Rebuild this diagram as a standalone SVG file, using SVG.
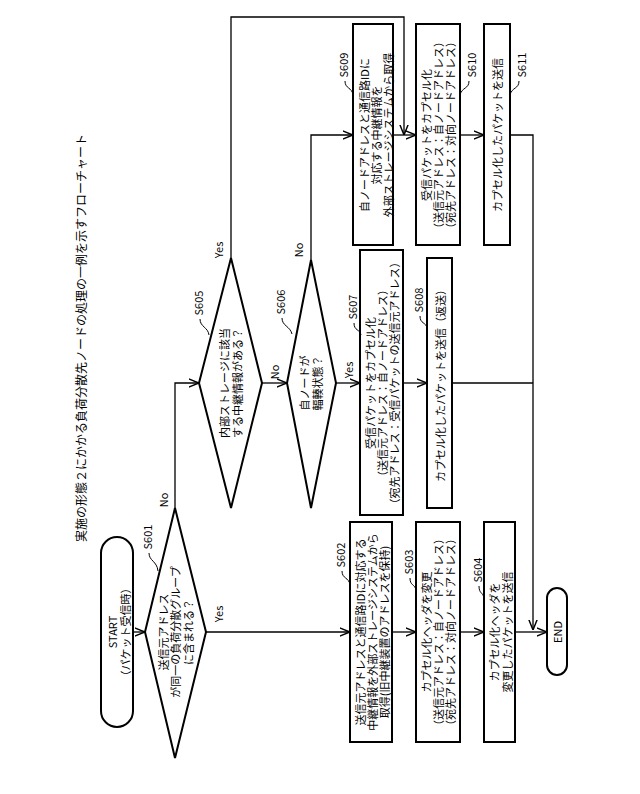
<svg xmlns="http://www.w3.org/2000/svg" width="640" height="794" viewBox="0 0 640 794">
<style>
.s{fill:#fff;stroke:#000;stroke-width:2}
.c{fill:none;stroke:#000;stroke-width:1.3}
.l{fill:none;stroke:#000;stroke-width:1}
text{font-family:"Noto Sans CJK JP","Liberation Sans",sans-serif;font-size:11px;text-anchor:middle;dominant-baseline:central;fill:#000}
.b{font-size:12px}
</style>
<defs><marker id="a" viewBox="0 0 10 10" refX="10" refY="5" markerWidth="8" markerHeight="8" orient="auto"><path d="M0,1 L10,5 L0,9" fill="none" stroke="#000" stroke-width="1.4"/></marker></defs>
<rect width="640" height="794" fill="#fff"/>
<text class="b" transform="translate(80,338) rotate(-90)">実施の形態２にかかる負荷分散先ノードの処理の一例を示すフローチャート</text>
<g id="connectors">
<path class="c" d="M133,632 H145" marker-end="url(#a)"/>
<path class="c" d="M175,508 V383 H199" marker-end="url(#a)"/>
<path class="c" d="M262,383 H287" marker-end="url(#a)"/>
<path class="c" d="M336,383 H360" marker-end="url(#a)"/>
<path class="c" d="M403,383 H427" marker-end="url(#a)"/>
<path class="c" d="M452,383 H533"/>
<path class="c" d="M231,258 V17 H404 V135" marker-end="url(#a)"/>
<path class="c" d="M311,260 V135 H353" marker-end="url(#a)"/>
<path class="c" d="M393,135 H416" marker-end="url(#a)"/>
<path class="c" d="M460,135 H484" marker-end="url(#a)"/>
<path class="c" d="M510,135 H533 V630" marker-end="url(#a)"/>
<path class="c" d="M206,632 H350" marker-end="url(#a)"/>
<path class="c" d="M392,632 H416" marker-end="url(#a)"/>
<path class="c" d="M460,632 H484" marker-end="url(#a)"/>
<path class="c" d="M515,632 H547" marker-end="url(#a)"/>
<text transform="translate(163,500) rotate(-90)">No</text>
<text transform="translate(218,614) rotate(-90)">Yes</text>
<text transform="translate(218,250) rotate(-90)">Yes</text>
<text transform="translate(274,372) rotate(-90)">No</text>
<text transform="translate(298,250) rotate(-90)">No</text>
<text transform="translate(348,370) rotate(-90)">Yes</text>
</g>
<g id="start"><rect class="s" x="101" y="537" width="32" height="190" rx="16"/>
<text transform="translate(112,632) rotate(-90)">START</text><text transform="translate(125,632) rotate(-90)">（パケット受信時）</text></g>
<g id="S601"><path class="s" d="M145,632 L175,508 L206,632 L175,758 Z"/>
<text transform="translate(163,632) rotate(-90)">送信元アドレス</text><text transform="translate(175,632) rotate(-90)">が同一の負荷分散グループ</text><text transform="translate(188,632) rotate(-90)">に含まれる？</text>
<text transform="translate(147,537) rotate(-90)">S601</text><path class="l" d="M149,553 c0,8 8,8 9,18"/></g>
<g id="S605"><path class="s" d="M199,383 L231,258 L262,383 L231,508 Z"/>
<text transform="translate(224,383) rotate(-90)">内部ストレージに該当</text><text transform="translate(237,383) rotate(-90)">する中継情報がある？</text>
<text transform="translate(198,303) rotate(-90)">S605</text><path class="l" d="M200,319 c0,8 8,8 9,16"/></g>
<g id="S606"><path class="s" d="M287,383 L311,260 L336,383 L311,508 Z"/>
<text transform="translate(304,383) rotate(-90)">自ノードが</text><text transform="translate(317,383) rotate(-90)">輻輳状態？</text>
<text transform="translate(280,302) rotate(-90)">S606</text><path class="l" d="M282,318 c0,8 8,8 10,16"/></g>
<g id="S607"><rect class="s" x="360" y="250" width="43" height="265"/>
<text transform="translate(370,383) rotate(-90)">受信パケットをカプセル化</text><text transform="translate(382,383) rotate(-90)">（送信元アドレス：自ノードアドレス）</text><text transform="translate(394,383) rotate(-90)">（宛先アドレス：受信パケットの送信元アドレス）</text>
<text transform="translate(352,307) rotate(-90)">S607</text><path class="l" d="M354,323 c0,8 6,6 7,12"/></g>
<g id="S608"><rect class="s" x="427" y="258" width="25" height="250"/>
<text transform="translate(440,383) rotate(-90)">カプセル化したパケットを送信（返送）</text>
<text transform="translate(418,300) rotate(-90)">S608</text><path class="l" d="M420,316 c0,8 6,6 7,12"/></g>
<g id="S609"><rect class="s" x="353" y="24" width="40" height="221"/>
<text transform="translate(364,135) rotate(-90)">自ノードアドレスと通信路IDに</text><text transform="translate(376,135) rotate(-90)">対応する中継情報を</text><text transform="translate(388,135) rotate(-90)">外部ストレージシステムから取得</text>
<text transform="translate(343,65) rotate(-90)">S609</text><path class="l" d="M345,81 c0,8 7,6 8,14"/></g>
<g id="S610"><rect class="s" x="416" y="24" width="44" height="221"/>
<text transform="translate(426,135) rotate(-90)">受信パケットをカプセル化</text><text transform="translate(438,135) rotate(-90)">（送信元アドレス：自ノードアドレス）</text><text transform="translate(450,135) rotate(-90)">（宛先アドレス：対向ノードアドレス）</text>
<text transform="translate(471,65) rotate(-90)">S610</text><path class="l" d="M469,81 c0,8 -7,6 -9,14"/></g>
<g id="S611"><rect class="s" x="484" y="24" width="26" height="221"/>
<text transform="translate(497,135) rotate(-90)">カプセル化したパケットを送信</text>
<text transform="translate(521,65) rotate(-90)">S611</text><path class="l" d="M519,81 c0,8 -7,6 -9,14"/></g>
<g id="S602"><rect class="s" x="350" y="522" width="42" height="220"/>
<text transform="translate(360,632) rotate(-90)">送信元アドレスと通信路IDに対応する</text><text transform="translate(372,632) rotate(-90)">中継情報を外部ストレージシステムから</text><text transform="translate(384,632) rotate(-90)">取得(旧中継装置のアドレスを保持)</text>
<text transform="translate(340,555) rotate(-90)">S602</text><path class="l" d="M342,571 c0,8 7,6 8,14"/></g>
<g id="S603"><rect class="s" x="416" y="522" width="44" height="220"/>
<text transform="translate(426,632) rotate(-90)">カプセル化ヘッダを変更</text><text transform="translate(438,632) rotate(-90)">（送信元アドレス：自ノードアドレス）</text><text transform="translate(450,632) rotate(-90)">（宛先アドレス：対向ノードアドレス）</text>
<text transform="translate(408,562) rotate(-90)">S603</text><path class="l" d="M410,578 c0,8 5,6 6,12"/></g>
<g id="S604"><rect class="s" x="484" y="522" width="31" height="220"/>
<text transform="translate(494,632) rotate(-90)">カプセル化ヘッダを</text><text transform="translate(507,632) rotate(-90)">変更したパケットを送信</text>
<text transform="translate(477,570) rotate(-90)">S604</text><path class="l" d="M479,586 c0,8 4,6 5,12"/></g>
<g id="end"><rect class="s" x="547" y="588" width="20" height="87" rx="10"/>
<text transform="translate(557,632) rotate(-90)">END</text></g>
</svg>
